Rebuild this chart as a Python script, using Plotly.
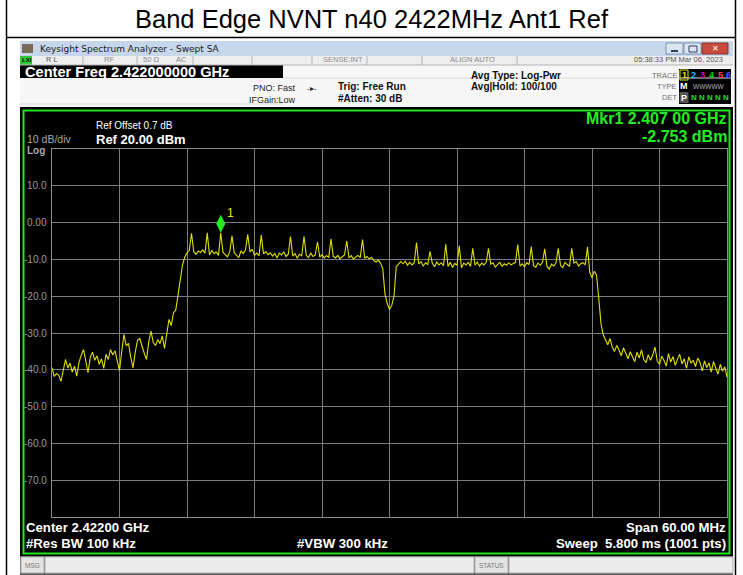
import plotly.graph_objects as go
import numpy as np

# ---------------- data ----------------
f_start_mhz = 2392.0
f_stop_mhz = 2452.0
# sweep readings, one row per MHz (5 points each, 0.2 MHz apart)
level_dbm = [
    -39.4, -41.8, -41.0, -41.5, -43.1,
    -40.5, -37.2, -39.5, -38.2, -40.6,
    -39.0, -41.7, -38.0, -36.0, -34.5,
    -37.5, -40.8, -36.6, -35.2, -37.4,
    -36.2, -38.5, -37.0, -39.6, -35.8,
    -37.2, -34.5, -36.0, -34.8, -37.6,
    -40.2, -35.0, -30.4, -33.5, -32.8,
    -36.5, -39.5, -35.2, -32.0, -31.5,
    -33.8, -35.5, -37.2, -32.4, -29.5,
    -32.6, -33.4, -31.8, -32.9, -30.8,
    -34.2, -29.6, -26.3, -28.0, -24.5,
    -23.8, -20.0, -16.5, -11.5, -9.4,
    -8.2, -7.6, -2.9, -7.9, -8.6,
    -7.7, -8.1, -7.4, -8.3, -2.8,
    -8.8, -7.6, -8.4, -8.0, -8.9,
    -2.753, -8.1, -8.7, -9.3, -7.9,
    -3.6, -8.2, -8.8, -9.5, -7.7,
    -8.4, -7.4, -3.2, -8.0, -7.2,
    -8.9, -8.3, -9.0, -3.4, -8.5,
    -7.9, -8.7, -8.2, -9.1, -8.4,
    -9.6, -8.3, -8.8, -8.0, -9.2,
    -8.6, -3.8, -9.1, -8.4, -9.7,
    -8.6, -9.0, -3.7, -8.9, -9.5,
    -8.3, -9.2, -8.8, -5.2, -9.4,
    -8.7, -9.6, -9.0, -9.4, -4.4,
    -9.1, -9.6, -8.9, -9.8, -9.3,
    -8.8, -5.0, -9.6, -9.0, -9.9,
    -9.3, -8.9, -9.5, -4.6, -9.7,
    -9.2, -9.9, -9.4, -10.3, -10.7,
    -10.2, -11.0, -12.5, -19.5, -22.0,
    -23.6, -22.5, -20.0, -12.0, -11.4,
    -10.6, -11.2, -10.5, -11.6, -10.8,
    -11.5, -10.9, -5.4, -11.2, -10.6,
    -11.8, -10.9, -11.4, -7.8, -11.0,
    -12.0, -10.7, -11.5, -10.9, -11.7,
    -5.9, -11.9, -10.8, -12.2, -11.1,
    -11.6, -6.3, -12.3, -11.0, -11.5,
    -10.8, -11.9, -7.0, -11.6, -10.7,
    -11.8, -11.0, -11.5, -10.8, -7.0,
    -11.3, -10.9, -12.1, -11.4, -10.8,
    -11.9, -11.2, -11.6, -10.9, -11.5,
    -11.1, -10.8, -6.0, -11.8, -11.2,
    -12.0, -10.9, -11.4, -6.5, -11.7,
    -12.1, -11.0, -11.6, -10.8, -7.1,
    -11.9, -12.6, -11.3, -11.8, -10.9,
    -7.0, -11.6, -12.2, -10.8, -11.4,
    -11.9, -7.0, -11.0, -10.6, -11.8,
    -11.2, -10.9, -11.5, -6.6, -13.5,
    -15.0, -13.2, -14.2, -20.5, -27.5,
    -30.5, -31.8, -33.2, -31.5, -33.8,
    -35.0, -33.4, -34.6, -36.2, -34.0,
    -35.4, -37.0, -35.1, -36.4, -37.8,
    -35.2, -36.8, -34.6, -37.2, -38.1,
    -35.9, -37.4, -36.0, -33.8, -37.6,
    -38.5, -36.3, -37.5, -39.0, -35.6,
    -37.9, -36.4, -38.8, -37.1, -35.8,
    -38.4, -37.0, -39.6, -36.5, -38.2,
    -37.4, -39.1, -36.8, -38.0, -40.3,
    -37.6, -39.4, -38.1, -40.6, -37.8,
    -39.7, -41.2, -38.5, -40.4, -39.2,
    -42.0,
]
freq_mhz = np.linspace(f_start_mhz, f_stop_mhz, len(level_dbm))

mkr_freq_mhz = 2407.0
mkr_level_dbm = -2.753
ref_level = 20.0
db_per_div = 10.0
y_tick_vals = [10, 0, -10, -20, -30, -40, -50, -60, -70]
y_tick_text = ["10.0", "0.00", "-10.0", "-20.0", "-30.0", "-40.0", "-50.0", "-60.0", "-70.0"]

title_text = "Band Edge NVNT n40 2422MHz Ant1 Ref"

# ---------------- layout helpers ----------------
W, H = 743, 575
def X(p): return p / W
def Y(p): return 1 - p / H

FONT = "Liberation Sans, Arial, sans-serif"
shapes = []
annos = []

def rect(x0, y0, x1, y1, fill=None, line=None, lw=0, layer="below"):
    shapes.append(dict(type="rect", xref="paper", yref="paper",
                       x0=X(x0), x1=X(x1), y0=Y(y1), y1=Y(y0),
                       fillcolor=fill if fill else "rgba(0,0,0,0)",
                       line=dict(color=line if line else "rgba(0,0,0,0)", width=lw),
                       layer=layer))

def hline(x0, x1, y, color, lw=1, layer="above"):
    shapes.append(dict(type="line", xref="paper", yref="paper",
                       x0=X(x0), x1=X(x1), y0=Y(y), y1=Y(y),
                       line=dict(color=color, width=lw), layer=layer))

def vline(x, y0, y1, color, lw=1, layer="above"):
    shapes.append(dict(type="line", xref="paper", yref="paper",
                       x0=X(x), x1=X(x), y0=Y(y0), y1=Y(y1),
                       line=dict(color=color, width=lw), layer=layer))

def txt(x, y, s, size, color, bold=False, xa="left", ya="middle", family=FONT):
    annos.append(dict(xref="paper", yref="paper", x=X(x), y=Y(y),
                      text=("<b>%s</b>" % s) if bold else s,
                      showarrow=False, xanchor=xa, yanchor=ya, borderpad=0,
                      font=dict(family=family, size=size, color=color)))

# --- page / title table ---
txt(372, 19, title_text, 25.5, "#000000", xa="center")
hline(6, 736, 37.5, "#000000", 1.5)
vline(6.5, 0, 575, "#000000", 1.5)
vline(735.5, 0, 575, "#000000", 1.5)

# --- screenshot window ---
rect(20, 41, 733, 575, fill="#1a1a1a")
# window title bar
rect(20, 41, 733, 56, fill="#c6d7ec")
rect(22, 44, 33, 53, fill="#7a6a55")
txt(39, 48.5, "Keysight Spectrum Analyzer - Swept SA", 9, "#1a1a1a", family="DejaVu Sans, sans-serif")
rect(666, 43, 683, 54, fill="#dbe6f3", line="#7f93ad", lw=1)
rect(684, 43, 701, 54, fill="#dbe6f3", line="#7f93ad", lw=1)
rect(702, 43, 728, 54, fill="#c84a3a", line="#8a2f25", lw=1)
hline(671, 678, 51, "#30405a", 2)
rect(689, 46, 697, 52, line="#30405a", lw=1)
txt(715, 48.5, "✕", 8, "#ffffff", xa="center")

# status row
rect(20, 56, 733, 65, fill="#eeeeee")
rect(20, 56, 32, 65, fill="#32c832")
txt(21, 60.5, "LXI", 6, "#000000", bold=True)
for sx in [83, 137, 193, 252, 312, 367, 422, 517]:
    vline(sx, 56, 65, "#b5b5b5", 1)
hline(20, 733, 65, "#b5b5b5", 1)
txt(45, 60, "R L", 7.5, "#555555")
txt(103, 60, "RF", 7.5, "#8a8a8a")
txt(142, 60, "50 Ω", 7.5, "#8a8a8a")
txt(175, 60, "AC", 7.5, "#8a8a8a")
txt(343, 60, "SENSE:INT", 7.5, "#8a8a8a", xa="center")
txt(472, 60, "ALIGN AUTO", 7.5, "#8a8a8a", xa="center")
txt(724, 60, "05:38:33 PM Mar 06, 2023", 7.5, "#555555", xa="right")

# info panel
rect(20, 65, 733, 107, fill="#f7f7f7")
rect(20, 65, 283, 78, fill="#000000")
txt(24, 72, "Center Freq 2.422000000 GHz", 14.6, "#ffffff", bold=True)
hline(283, 733, 78, "#d8d8d8", 1)
hline(20, 283, 104, "#d8d8d8", 1)
txt(297, 88, "PNO: Fast", 9, "#222222", xa="right")
txt(297, 99.5, "IFGain:Low", 9, "#222222", xa="right")
txt(312, 88, "-▸-", 8, "#222222", xa="center")
txt(337, 87, "Trig: Free Run", 10, "#111111", bold=True)
txt(337, 98.5, "#Atten: 30 dB", 10, "#111111", bold=True)
txt(470, 75, "Avg Type: Log-Pwr", 10, "#111111", bold=True)
txt(470, 87, "Avg|Hold: 100/100", 10, "#111111", bold=True)
txt(678, 75, "TRACE", 7.5, "#707070", xa="right")
txt(678, 86.5, "TYPE", 7.5, "#707070", xa="right")
txt(678, 98, "DET", 7.5, "#707070", xa="right")
rect(679, 69, 731, 104, fill="#000000")
rect(680, 70, 688, 80, line="#e6e600", lw=1)
for dx, d, c in [(684, "1", "#e6e600"), (693, "2", "#00c8ff"), (702, "3", "#d000d0"),
                 (711, "4", "#00d000"), (720, "5", "#ff4060"), (728, "6", "#5050ff")]:
    txt(dx, 75, d, 9, c, bold=True, xa="center")
txt(684, 86.5, "M", 9, "#ffffff", bold=True, xa="center")
txt(709, 86.5, "WWWWW", 6.5, "#b0b0b0", xa="center")
rect(679.5, 92, 688.5, 103, fill="#555555")
txt(684, 98, "P", 9, "#ffffff", bold=True, xa="center")
txt(710, 98, "N N N N N", 8, "#22dd22", bold=True, xa="center")

# display area
rect(20, 107, 733, 556, fill="#000000")
rect(23.5, 110.5, 729.5, 553.5, line="#22e622", lw=2, layer="above")

txt(95, 126, "Ref Offset 0.7 dB", 10, "#ffffff")
txt(95, 139.5, "Ref 20.00 dBm", 13, "#ffffff", bold=True)
txt(26, 139, "10 dB/div", 10.5, "#a8a8a8")
txt(26, 150, "Log", 10, "#a8a8a8", bold=True)
txt(728, 118.5, "Mkr1 2.407 00 GHz", 16, "#22ee22", bold=True, xa="right")
txt(728, 136, "-2.753 dBm", 16, "#22ee22", bold=True, xa="right")

txt(25, 527, "Center 2.42200 GHz", 13.2, "#ffffff", bold=True)
txt(25, 543, "#Res BW 100 kHz", 13.2, "#ffffff", bold=True)
txt(342, 543, "#VBW 300 kHz", 13.2, "#ffffff", bold=True, xa="center")
txt(727, 527, "Span 60.00 MHz", 13.2, "#ffffff", bold=True, xa="right")
txt(727, 543, "Sweep  5.800 ms (1001 pts)", 13.2, "#ffffff", bold=True, xa="right")

# bottom status bar
rect(20, 556, 733, 575, fill="#5a5a5a")
rect(21, 557, 44, 573, fill="#e4e4e4", line="#b0b0b0", lw=1)
rect(45, 557, 474, 573, fill="#ececec", line="#b0b0b0", lw=1)
rect(475, 557, 508, 573, fill="#e4e4e4", line="#b0b0b0", lw=1)
rect(509, 557, 733, 573, fill="#ececec", line="#b0b0b0", lw=1)
txt(32, 565, "MSG", 6.5, "#777777", xa="center")
txt(491, 565, "STATUS", 6.5, "#777777", xa="center")

# y tick labels (data-anchored)
for v, t in zip(y_tick_vals, y_tick_text):
    annos.append(dict(xref="paper", yref="y", x=X(49), y=v, text=t, showarrow=False,
                      xanchor="right", yanchor="middle",
                      font=dict(family=FONT, size=10, color="#9a9a9a")))

# marker label
annos.append(dict(xref="x", yref="y", x=mkr_freq_mhz, y=mkr_level_dbm, text="1",
                  showarrow=False, xanchor="center", yanchor="middle", xshift=10, yshift=20,
                  font=dict(family=FONT, size=12, color="#e6e600")))

# ---------------- figure ----------------
fig = go.Figure()
fig.add_trace(go.Scatter(x=freq_mhz, y=level_dbm, mode="lines",
                         line=dict(color="#dede00", width=1.1), hoverinfo="skip"))
fig.add_trace(go.Scatter(x=[mkr_freq_mhz], y=[mkr_level_dbm + 9 / 3.69], mode="markers",
                         marker=dict(symbol="diamond-tall", size=13, color="#22ee22",
                                     line=dict(width=0)), hoverinfo="skip"))

fig.update_layout(
    width=W, height=H, margin=dict(l=0, r=0, t=0, b=0),
    paper_bgcolor="#ffffff", plot_bgcolor="#000000", showlegend=False,
    shapes=shapes, annotations=annos,
    xaxis=dict(domain=[X(52), X(727)], range=[f_start_mhz, f_stop_mhz], dtick=6, tick0=f_start_mhz,
               showgrid=True, gridcolor="#7c7c7c", gridwidth=1, zeroline=False,
               showticklabels=False, ticks="", showline=True, linecolor="#8c8c8c",
               linewidth=1, mirror=True, fixedrange=True),
    yaxis=dict(domain=[Y(517), Y(149)], range=[ref_level - 10 * db_per_div, ref_level],
               dtick=db_per_div, tick0=0,
               showgrid=True, gridcolor="#7c7c7c", gridwidth=1, zeroline=False,
               showticklabels=False, ticks="", showline=True, linecolor="#8c8c8c",
               linewidth=1, mirror=True, fixedrange=True),
)
fig.write_html("out.html", config={"displayModeBar": False},
               post_script="document.body.style.margin='0';document.body.style.padding='0';document.body.style.overflow='hidden';")
